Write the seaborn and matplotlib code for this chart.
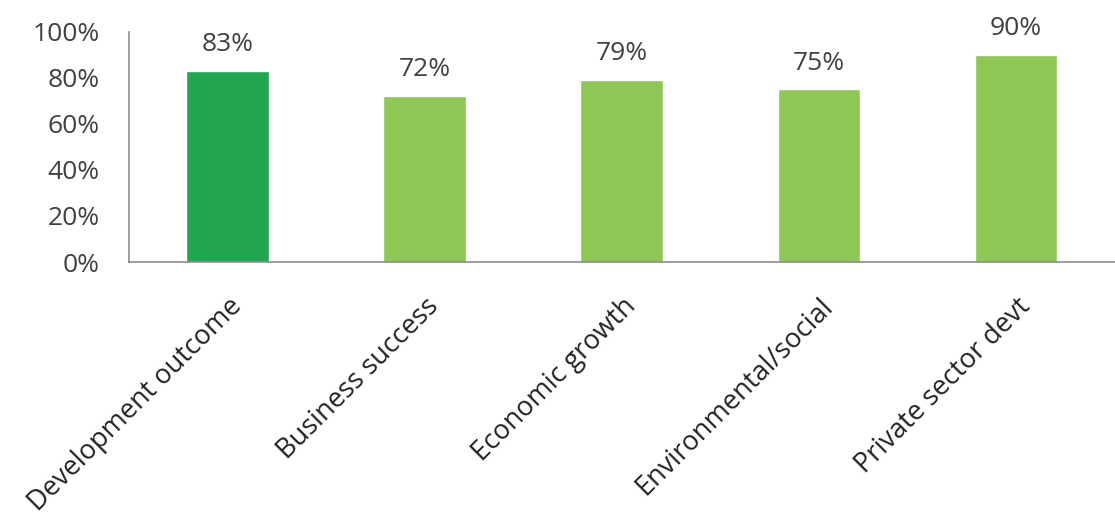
import matplotlib
matplotlib.use("Agg")
import matplotlib.pyplot as plt
import seaborn as sns
import pandas as pd
from matplotlib.ticker import PercentFormatter

categories = ["Development outcome", "Business success", "Economic growth",
              "Environmental/social", "Private sector devt"]
values = [83, 72, 79, 75, 90]
bar_labels = ["83%", "72%", "79%", "75%", "90%"]
colors = ["#22A64F", "#8FC756", "#8FC756", "#8FC756", "#8FC756"]

sns.set_theme(style="white")
plt.rcParams['font.family'] = ['Open Sans', 'DejaVu Sans']

fig = plt.figure(figsize=(11.15, 5.24), dpi=100)
ax = fig.add_axes([0.1157, 0.5, 0.884, 0.439])

df = pd.DataFrame({"cat": categories, "val": values})
sns.barplot(data=df, x="cat", y="val", hue="cat", palette=colors,
            legend=False, width=0.42, ax=ax, saturation=1)

for i, (v, lab) in enumerate(zip(values, bar_labels)):
    ax.annotate(lab, (i, v), xytext=(0, 10), textcoords="offset points",
                ha="center", va="bottom", fontsize=19, color="#404040")

ax.set_ylim(0, 100)
ax.set_xlim(-0.5, 4.5)
ax.set_yticks([0, 20, 40, 60, 80, 100])
ax.yaxis.set_major_formatter(PercentFormatter(decimals=0))
ax.set_xlabel("")
ax.set_ylabel("")
ax.tick_params(axis="y", length=0, pad=21, labelsize=19, labelcolor="#404040")
ax.tick_params(axis="x", length=0, pad=22, labelsize=19.5, labelcolor="#222222")
for lab in ax.get_xticklabels():
    lab.set_rotation(45)
    lab.set_ha("right")
    lab.set_rotation_mode("anchor")

for s in ["top", "right"]:
    ax.spines[s].set_visible(False)
for s in ["left", "bottom"]:
    ax.spines[s].set_color("#8C8C8C")
    ax.spines[s].set_linewidth(1.2)

fig.savefig("out.png", dpi=100)
